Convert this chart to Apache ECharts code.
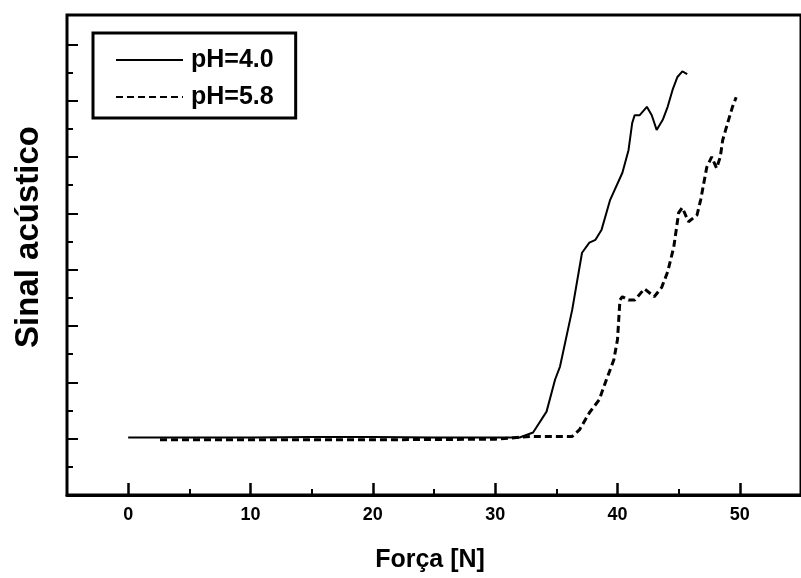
<!DOCTYPE html>
<html>
<head>
<meta charset="utf-8">
<script src="https://cdn.jsdelivr.net/npm/echarts@6/dist/echarts.min.js"></script>
<style>
html,body{margin:0;padding:0;background:#fff;}
#chart{width:801px;height:578px;}
</style>
</head>
<body>
<div id="chart"></div>
<script>
// Data (y in arbitrary units; one major tick = 1)
const seriesNames = ['pH=4.0', 'pH=5.8'];
const forcePH40 = [0, 5, 10, 15, 20, 25, 30, 32, 33.1, 34.2, 34.9, 35.3, 36.3, 37.1, 37.7, 38.2, 38.7, 39.4, 40.4, 40.9, 41.2, 41.4, 41.8, 42.4, 42.8, 43.2, 43.7, 44.1, 44.5, 44.9, 45.3, 45.7];
const signalPH40 = [0.02, 0.02, 0.02, 0.03, 0.03, 0.02, 0.02, 0.02, 0.11, 0.48, 1.05, 1.28, 2.29, 3.30, 3.48, 3.53, 3.71, 4.24, 4.72, 5.12, 5.60, 5.74, 5.74, 5.89, 5.74, 5.48, 5.66, 5.89, 6.19, 6.42, 6.52, 6.47];
const forcePH58 = [2.6, 10, 20, 30, 32.9, 36.3, 36.9, 37.7, 38.5, 39.1, 39.7, 40.0, 40.2, 40.4, 40.9, 41.4, 42.2, 43.0, 43.6, 44.1, 44.6, 45.0, 45.3, 45.8, 46.5, 46.8, 47.3, 47.7, 48.1, 48.4, 48.6, 49.0, 49.4, 49.7];
const signalPH58 = [-0.02, -0.02, -0.02, -0.01, 0.04, 0.04, 0.16, 0.46, 0.69, 1.05, 1.40, 1.76, 2.46, 2.52, 2.46, 2.46, 2.66, 2.52, 2.68, 2.96, 3.40, 4.01, 4.10, 3.85, 3.97, 4.24, 4.82, 5.00, 4.80, 5.00, 5.30, 5.60, 5.89, 6.06];
const xMajorTicks = [0, 10, 20, 30, 40, 50];
const xMinorTicks = [5, 15, 25, 35, 45];
const yMajorTicks = [0, 1, 2, 3, 4, 5, 6, 7];
const yMinorTicks = [-0.5, 0.5, 1.5, 2.5, 3.5, 4.5, 5.5, 6.5];
const xTitle = 'Força [N]';
const yTitle = 'Sinal acústico';

const pairs = (xs, ys) => xs.map((x, i) => [x, ys[i]]);

const chart = echarts.init(document.getElementById('chart'), null, {renderer: 'canvas'});
const font = '"Liberation Sans", Arial, sans-serif';

chart.setOption({
  animation: false,
  backgroundColor: '#fff',
  grid: {
    left: 67, top: 15, width: 746, height: 480,
    show: true, borderColor: '#000', borderWidth: 3, backgroundColor: 'transparent'
  },
  legend: {
    orient: 'vertical',
    left: 93, top: 33,
    padding: [12, 22, 6, 22],
    borderColor: '#000', borderWidth: 3, borderRadius: 0,
    itemWidth: 67, itemHeight: 14, itemGap: 7,
    data: seriesNames,
    itemStyle: {opacity: 0},
    textStyle: {fontFamily: font, fontWeight: 'bold', fontSize: 25, color: '#000', lineHeight: 30, padding: [0, 0, 0, 3]}
  },
  xAxis: [{
    type: 'value', min: -5, max: 55,
    name: xTitle, nameLocation: 'middle', nameGap: 53,
    nameTextStyle: {fontFamily: font, fontWeight: 'bold', fontSize: 25, color: '#000', padding: [0, 8, 0, 0]},
    axisLine: {show: true, onZero: false, lineStyle: {color: '#000', width: 3}},
    axisTick: {show: true, inside: true, length: 12, lineStyle: {color: '#000', width: 2.5}, customValues: xMajorTicks},
    axisLabel: {show: true, margin: 11, customValues: xMajorTicks, fontFamily: font, fontWeight: 'bold', fontSize: 18, color: '#000'},
    splitLine: {show: false}
  }, {
    type: 'value', min: -5, max: 55, position: 'bottom', gridIndex: 0,
    axisLine: {show: false, onZero: false},
    axisTick: {show: true, inside: true, length: 6, lineStyle: {color: '#000', width: 2}, customValues: xMinorTicks},
    axisLabel: {show: false},
    splitLine: {show: false}
  }],
  yAxis: [{
    type: 'value', min: -1, max: 7.52,
    name: yTitle, nameLocation: 'middle', nameGap: 22, nameRotate: 90,
    nameTextStyle: {fontFamily: font, fontWeight: 'bold', fontSize: 33, color: '#000', padding: [0, 0, 0, 36]},
    axisLine: {show: true, onZero: false, lineStyle: {color: '#000', width: 2}},
    axisTick: {show: true, inside: true, length: 11, lineStyle: {color: '#000', width: 2}, customValues: yMajorTicks},
    axisLabel: {show: false},
    splitLine: {show: false}
  }, {
    type: 'value', min: -1, max: 7.52, position: 'left',
    axisLine: {show: false, onZero: false},
    axisTick: {show: true, inside: true, length: 6, lineStyle: {color: '#000', width: 2}, customValues: yMinorTicks},
    axisLabel: {show: false},
    splitLine: {show: false}
  }],
  series: [{
    name: seriesNames[0], type: 'line', xAxisIndex: 0, yAxisIndex: 0,
    symbol: 'none', data: pairs(forcePH40, signalPH40),
    lineStyle: {color: '#000', width: 2, type: 'solid'}, itemStyle: {color: '#000'}
  }, {
    name: seriesNames[1], type: 'line', xAxisIndex: 0, yAxisIndex: 0,
    symbol: 'none', data: pairs(forcePH58, signalPH58),
    lineStyle: {color: '#000', width: 3, type: [7, 4]}, itemStyle: {color: '#000'}
  }]
});
</script>
</body>
</html>
